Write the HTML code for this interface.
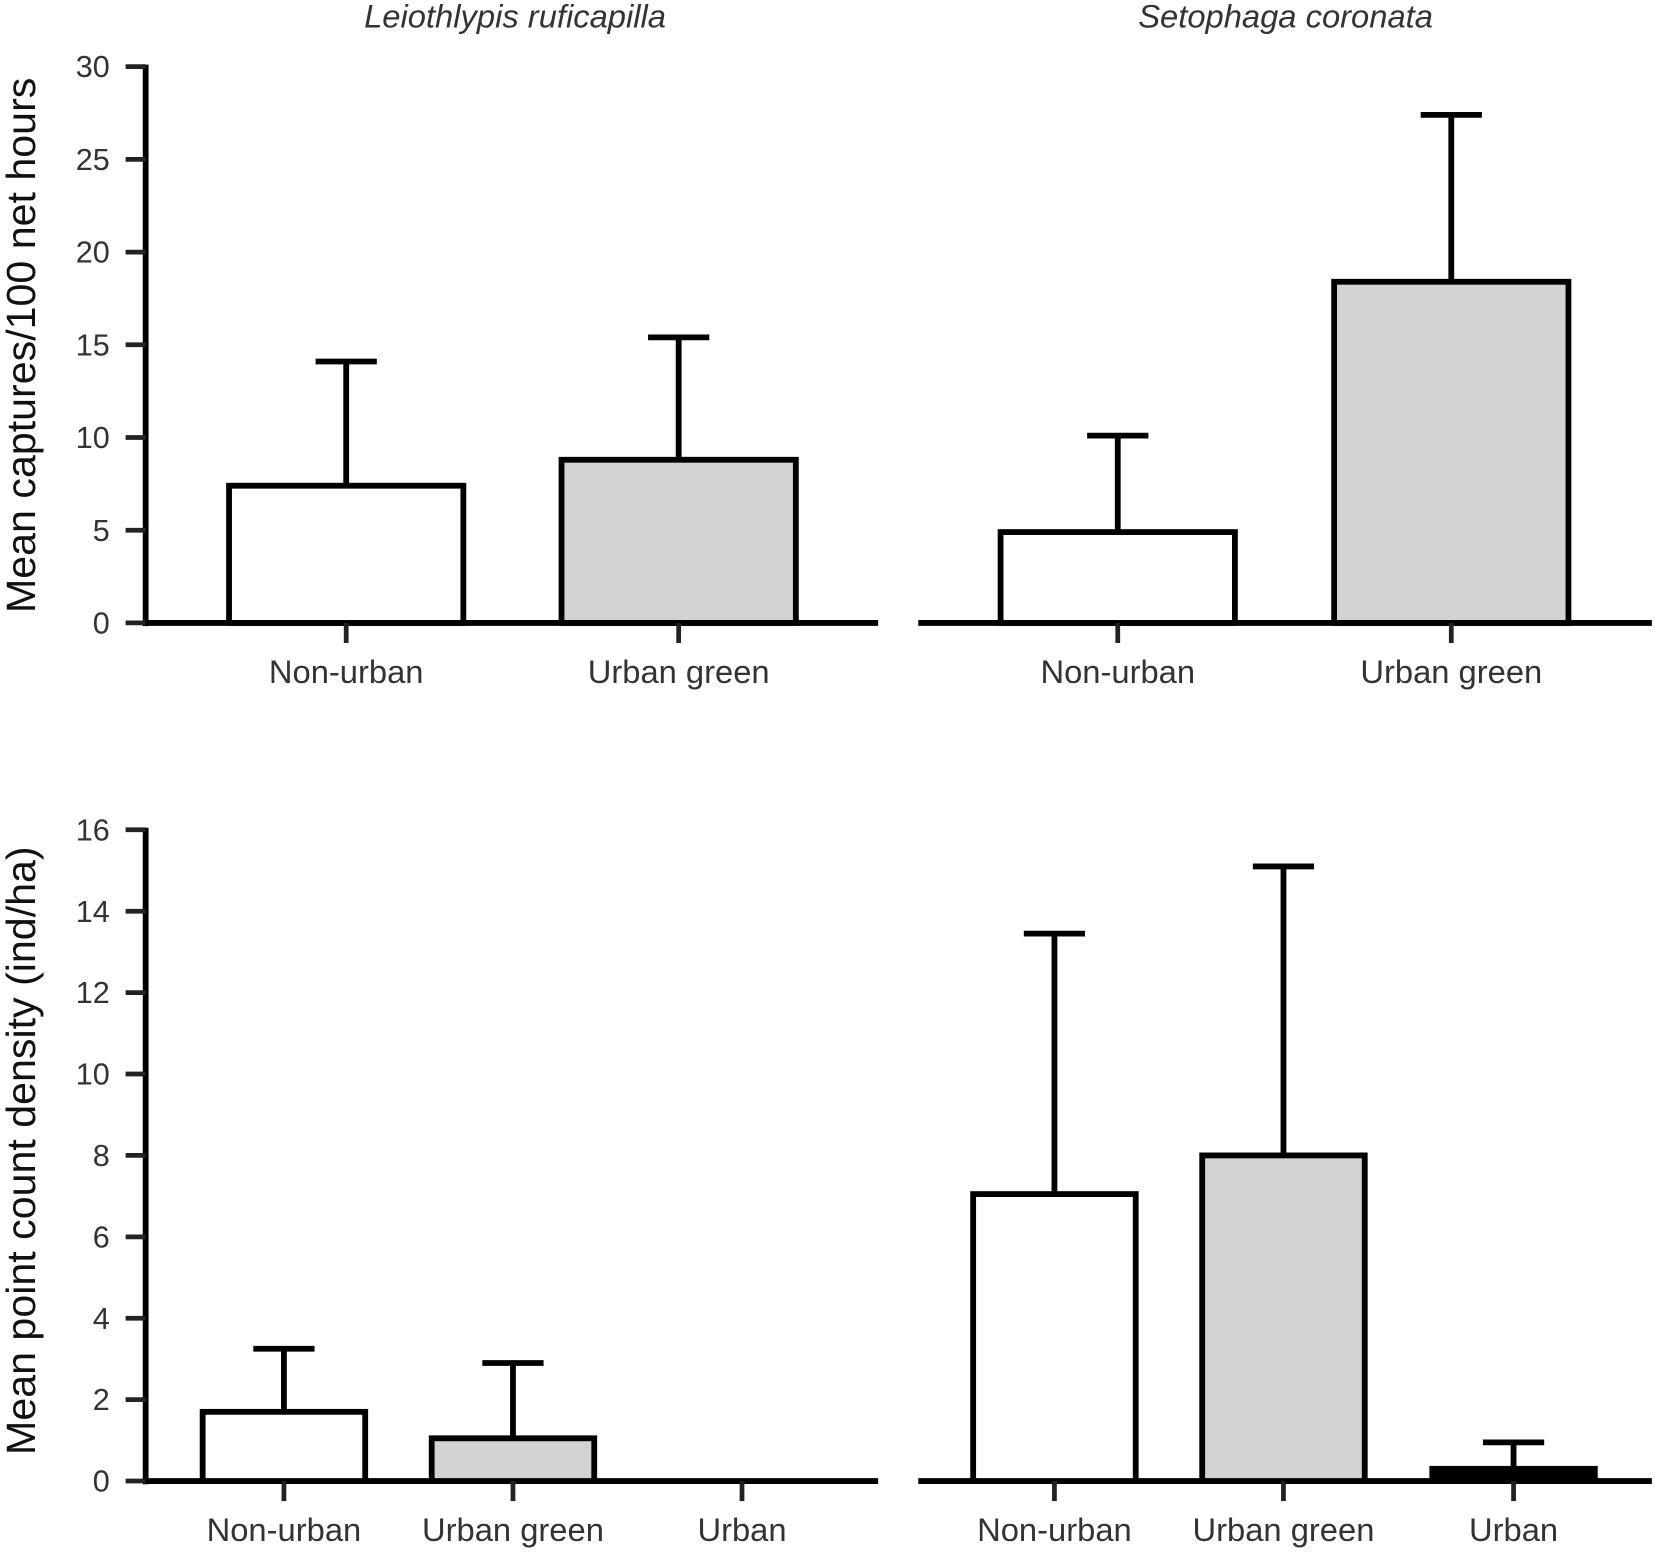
<!DOCTYPE html>
<html><head><meta charset="utf-8"><style>
html,body{margin:0;padding:0;background:#fff}
svg{display:block}
text{font-family:"Liberation Sans",sans-serif;fill:#333}
</style></head><body>
<svg id="chart" width="1655" height="1553" viewBox="0 0 1568 1471" xmlns="http://www.w3.org/2000/svg">
<g id="g"></g>
</svg>
<script>
const topTitles = ["Leiothlypis ruficapilla", "Setophaga coronata"];
const topCats = ["Non-urban", "Urban green"];
const topLeftVals = [7.4, 8.8];
const topLeftErr = [14.1, 15.4];
const topRightVals = [4.9, 18.4];
const topRightErr = [10.1, 27.4];
const topTicks = [0, 5, 10, 15, 20, 25, 30];
const botCats = ["Non-urban", "Urban green", "Urban"];
const botLeftVals = [1.7, 1.05, 0];
const botLeftErr = [3.25, 2.9, 0];
const botRightVals = [7.05, 8.0, 0.3];
const botRightErr = [13.45, 15.1, 0.95];
const botTicks = [0, 2, 4, 6, 8, 10, 12, 14, 16];
const fills2 = ["#fff", "#d3d3d3"];
const fills3 = ["#fff", "#d3d3d3", "#000"];

const NS = "http://www.w3.org/2000/svg";
const g = document.getElementById("g");
function el(tag, attrs, parent) {
  const e = document.createElementNS(NS, tag);
  for (const k in attrs) e.setAttribute(k, attrs[k]);
  (parent || g).appendChild(e);
  return e;
}
function panel(name, x0, x1, y0, yTop, max, ticks, cats, centers, barW, vals, errs, fills, showY) {
  const grp = el("g", {});
  
  
  const ys = v => y0 - (v / max) * (y0 - yTop);
  if (showY) {
    const ax = el("line", {x1: x0, x2: x0, y1: y0 + 3, y2: yTop - 2, stroke: "#000", "stroke-width": 5.5}, grp);
    
    
    ticks.forEach(t => {
      el("line", {x1: x0 - 19, x2: x0, y1: ys(t), y2: ys(t), stroke: "#222", "stroke-width": 4.5}, grp);
      const tx = el("text", {x: x0 - 34, y: ys(t) + 10, "text-anchor": "end", "font-size": 29}, grp);
      tx.textContent = t;
      
      
    });
  }
  const xa = el("line", {x1: x0, x2: x1, y1: y0, y2: y0, stroke: "#000", "stroke-width": 5.5}, grp);
  
  
  cats.forEach((c, i) => {
    const cx = centers[i];
    const v = vals[i], e = errs[i];
    if (e > v) {
      const er = el("line", {x1: cx, x2: cx, y1: ys(v), y2: ys(e), stroke: "#000", "stroke-width": 5.5}, grp);
      
      
      el("line", {x1: cx - 29, x2: cx + 29, y1: ys(e), y2: ys(e), stroke: "#000", "stroke-width": 5.5}, grp);
    }
    if (v > 0) {
      const b = el("rect", {x: cx - barW / 2, y: ys(v), width: barW, height: y0 - ys(v), fill: fills[i], stroke: "#000", "stroke-width": 5.5}, grp);
      
      
    }
    el("line", {x1: cx, x2: cx, y1: y0, y2: y0 + 19, stroke: "#222", "stroke-width": 4.5}, grp);
    const lt = el("text", {x: cx, y: y0 + 57, "text-anchor": "middle", "font-size": 31}, grp);
    lt.textContent = c;
    
    
  });
}
panel("top-left-panel", 138, 832, 590, 63, 30, topTicks, topCats, [328, 643], 222, topLeftVals, topLeftErr, fills2, true);
panel("top-right-panel", 870, 1565, 590, 63, 30, topTicks, topCats, [1059, 1375], 222, topRightVals, topRightErr, fills2, false);
panel("bottom-left-panel", 138, 832, 1403, 786, 16, botTicks, botCats, [269, 486, 703], 154, botLeftVals, botLeftErr, fills3, true);
panel("bottom-right-panel", 870, 1565, 1403, 786, 16, botTicks, botCats, [999, 1216, 1434], 154, botRightVals, botRightErr, fills3, false);

[[488, topTitles[0]], [1218, topTitles[1]]].forEach(([x, s]) => {
  const t = el("text", {x: x, y: 26, "text-anchor": "middle", "font-size": 31, "font-style": "italic"});
  t.textContent = s;
  
  
});
[[327, "Mean captures/100 net hours"], [1090, "Mean point count density (ind/ha)"]].forEach(([y, s]) => {
  const t = el("text", {x: 0, y: 0, "text-anchor": "middle", "font-size": 39, transform: "translate(33," + y + ") rotate(-90)", style: "fill:#111"});
  t.textContent = s;
  
  
});
</script>
</body></html>
